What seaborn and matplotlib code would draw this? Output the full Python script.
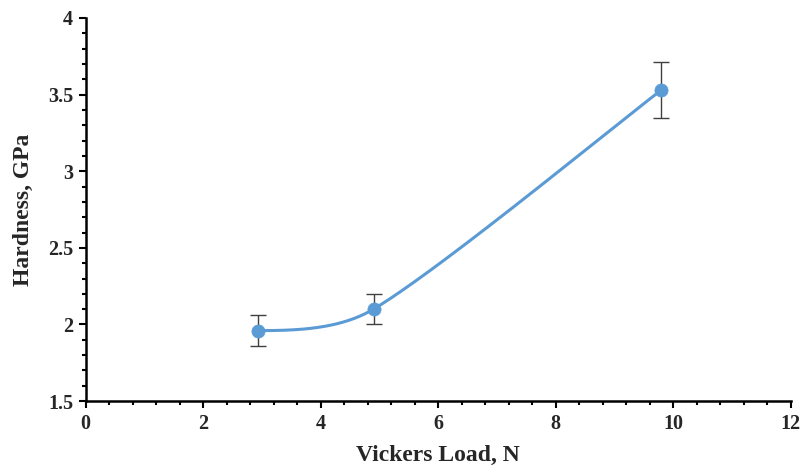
import numpy as np
import pandas as pd
import matplotlib
matplotlib.use("Agg")
import matplotlib.pyplot as plt
import seaborn as sns
from matplotlib.ticker import MultipleLocator

# Data
load_n = [2.94, 4.9, 9.8]
hardness_gpa = [1.96, 2.10, 3.53]
hardness_err = [0.10, 0.10, 0.18]
x_ticks = [0, 2, 4, 6, 8, 10, 12]
y_ticks = [1.5, 2, 2.5, 3, 3.5, 4]

sns.set_theme(style="white")
plt.rcParams['font.family'] = ['Liberation Serif', 'DejaVu Serif']
plt.rcParams['font.weight'] = 'bold'

fig = plt.figure(figsize=(8.01, 4.73), dpi=100)
ax = fig.add_axes([0.107, 0.152, 0.880, 0.810])
ax.set_xlim(0, 12)
ax.set_ylim(1.5, 4)

# Smoothed connecting line (Bezier smoothing computed in display space,
# with control distances limited so the curve does not overshoot)
def smooth(xs, ys, n=80):
    P = ax.transData.transform(np.column_stack([xs, ys]).astype(float))
    m = len(P)
    tdir, tlen = [], []
    for i in range(m):
        if i == 0:
            d = np.array([1.0, 0.0])
            tdir.append(d); tlen.append(np.inf)
        elif i == m - 1:
            d = P[i] - P[i - 1]
            tdir.append(d / np.linalg.norm(d)); tlen.append(np.linalg.norm(d) / 6.0)
        else:
            d = P[i + 1] - P[i - 1]
            tdir.append(d / np.linalg.norm(d)); tlen.append(np.linalg.norm(d) / 6.0)
    out = []
    for i in range(m - 1):
        p1, p2 = P[i], P[i + 1]
        L = np.linalg.norm(p2 - p1) / 3.0
        c1 = p1 + tdir[i] * min(L, tlen[i])
        c2 = p2 - tdir[i + 1] * min(L, tlen[i + 1])
        t = np.linspace(0, 1, n)[:, None]
        seg = ((1 - t) ** 3) * p1 + 3 * ((1 - t) ** 2) * t * c1 + 3 * (1 - t) * t ** 2 * c2 + t ** 3 * p2
        out.append(seg if i == 0 else seg[1:])
    return ax.transData.inverted().transform(np.vstack(out))

curve = smooth(load_n, hardness_gpa)
df_curve = pd.DataFrame({"x": curve[:, 0], "y": curve[:, 1]})
sns.lineplot(data=df_curve, x="x", y="y", sort=False, estimator=None, color="#5B9BD5",
             linewidth=2.2, ax=ax)

ax.errorbar(load_n, hardness_gpa, yerr=hardness_err, fmt="none", ecolor="#404040",
            elinewidth=1.0, capsize=5.5, capthick=1.0, zorder=2)
df = pd.DataFrame({"load": load_n, "h": hardness_gpa})
sns.scatterplot(data=df, x="load", y="h", color="#5B9BD5", s=90, edgecolor="#5B9BD5",
                linewidth=0.5, zorder=4, ax=ax)

ax.set_xlim(0, 12)
ax.set_ylim(1.5, 4)
ax.set_xticks(x_ticks)
ax.set_yticks(y_ticks)
ax.set_xticklabels([str(v) for v in x_ticks], fontsize=14.5, fontweight='bold')
ax.set_yticklabels([f"{v:g}" for v in y_ticks], fontsize=14.5, fontweight='bold')
ax.xaxis.set_minor_locator(MultipleLocator(0.4))
ax.yaxis.set_minor_locator(MultipleLocator(0.1))
ax.tick_params(axis='both', which='major', direction='out', length=5, width=1.5,
               color='black', bottom=True, left=True, pad=4)
ax.tick_params(axis='both', which='minor', direction='out', length=3, width=1.5,
               color='black', bottom=True, left=True)
ax.set_xlabel("Vickers Load, N", fontsize=17, fontweight='bold', labelpad=8)
ax.set_ylabel("Hardness, GPa", fontsize=17, fontweight='bold', labelpad=10)

for s in ["top", "right"]:
    ax.spines[s].set_visible(False)
for s in ["left", "bottom"]:
    ax.spines[s].set_color("black")
    ax.spines[s].set_linewidth(1.8)

fig.savefig("out.png", dpi=100)
